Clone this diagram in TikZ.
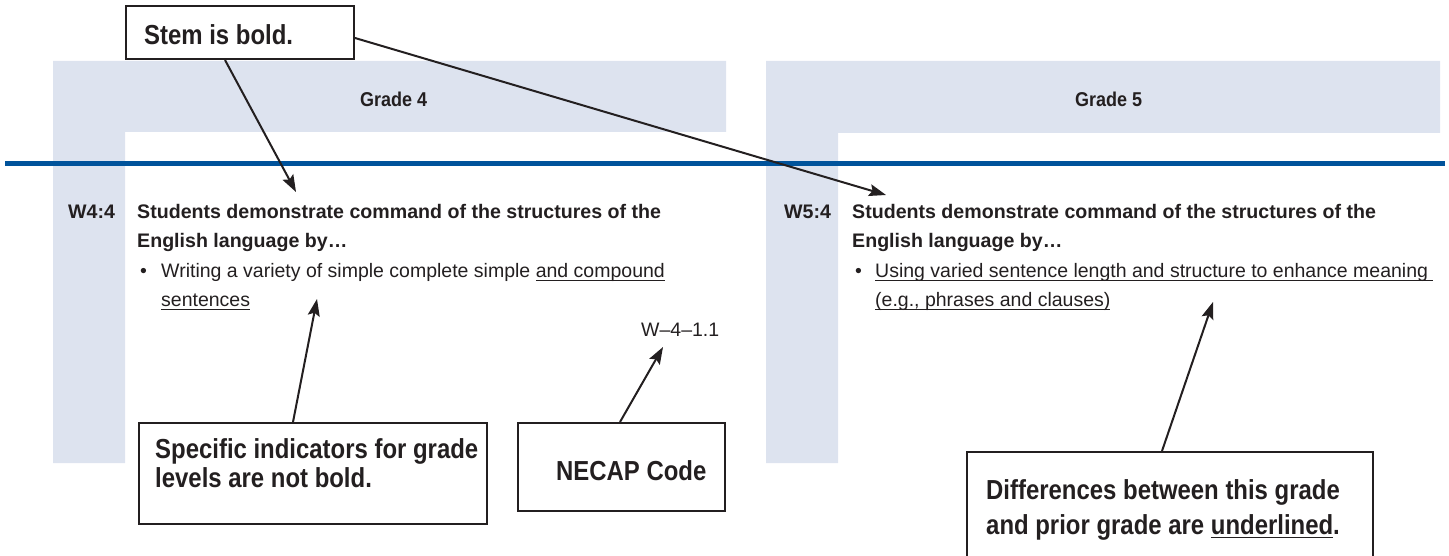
\documentclass[tikz,border=0pt]{standalone}
\usepackage{fontspec}
\setmainfont{Liberation Sans}
\newfontfamily\callf[FakeStretch=0.87]{Liberation Sans}
\newfontfamily\gradef[FakeStretch=0.9]{Liberation Sans}
\newsavebox\myulbox
\newcommand\myul[1]{\sbox\myulbox{#1}\rlap{\rule[-3.5pt]{\wd\myulbox}{1pt}}\usebox\myulbox}
\usetikzlibrary{arrows.meta}
\definecolor{panel}{HTML}{DDE3EF}
\definecolor{rulecol}{HTML}{00539B}
\definecolor{ink}{HTML}{231F20}
\begin{document}
\begin{tikzpicture}[x=1pt,y=-1pt,
  txt/.style={anchor=base west, inner sep=0pt, text=ink, font=\fontsize{19.5}{23}\selectfont},
  stemtxt/.style={anchor=base west, inner sep=0pt, text=ink, font=\bfseries\fontsize{19.6}{23}\selectfont},
  gradetxt/.style={anchor=base west, inner sep=0pt, text=ink, font=\gradef\bfseries\fontsize{20}{24}\selectfont},
  callout/.style={draw=ink, line width=2pt, fill=white, inner sep=0pt, anchor=north west},
  calltxt/.style={anchor=base west, inner sep=0pt, text=ink, font=\callf\bfseries\fontsize{27.5}{30}\selectfont},
  pointer/.style={draw=ink, line width=2pt, -{Stealth[length=17pt,width=12pt,inset=3pt]}},
  panelfill/.style={fill=panel, draw=none}
]
\useasboundingbox (0,0) rectangle (1449,556);
\clip (0,0) rectangle (1449,556);

% grade panels
\path[panelfill] (53,61) -- (726,61) -- (726,132) -- (125,132) -- (125,463) -- (53,463) -- cycle;
\path[panelfill] (766,61) -- (1440,61) -- (1440,133) -- (838,133) -- (838,463) -- (766,463) -- cycle;
\node[gradetxt] (g4) at (360,107) {Grade 4};
\node[gradetxt] (g5) at (1075,107) {Grade 5};

% blue rule
\fill[rulecol] (5,161) rectangle (1445,166);

% grade 4 content
\node[stemtxt] (w4) at (68,219) {W4:4};
\node[stemtxt] (s4a) at (137,219) {Students demonstrate command of the structures of the};
\node[stemtxt] (s4b) at (137,248) {English language by…};
\node[txt] (b4) at (140,277) {•};
\node[txt] (i4a) at (161,277) {Writing a variety of simple complete simple \myul{and compound}};
\node[txt] (i4b) at (161,306) {\myul{sentences}};
\node[txt] (code4) at (641,336) {W–4–1.1};

% grade 5 content
\node[stemtxt] (w5) at (784,219) {W5:4};
\node[stemtxt] (s5a) at (852,219) {Students demonstrate command of the structures of the};
\node[stemtxt] (s5b) at (852,248) {English language by…};
\node[txt] (b5) at (855,277) {•};
\node[txt] (i5a) at (875,277) {\myul{Using varied sentence length and structure to enhance meaning\ }};
\node[txt] (i5b) at (875,306) {\myul{(e.g., phrases and clauses)}};

% arrow targets
\coordinate (t1) at (296,192);
\coordinate (t2) at (886,195);
\coordinate (t3) at (317,299);
\coordinate (t4) at (663,347);
\coordinate (t5) at (1213,302);

% callout boxes
\node[callout, minimum width=228pt, minimum height=53pt] (stem) at (125,5) {};
\node[callout, minimum width=348pt, minimum height=101pt] (spec) at (138,422) {};
\node[callout, minimum width=207pt, minimum height=88pt] (necap) at (517,422) {};
\node[callout, minimum width=406pt, minimum height=130pt] (diff) at (966,451) {};

\node[calltxt] (stemt) at (144,45) {Stem is bold.};
\node[calltxt] (spect1) at (155,458) {Specific indicators for grade};
\node[calltxt] (spect2) at (155,487) {levels are not bold.};
\node[calltxt] (necapt) at (556,480) {NECAP Code};
\node[calltxt] (difft1) at (986,499) {Differences between this grade};
\node[calltxt] (difft2) at (986,534) {and prior grade are \myul{underlined}.};

% pointers
\draw[pointer] ([xshift=100pt]stem.south west) -- (t1);
\draw[pointer] ([yshift=-5.5pt]stem.east) -- (t2);
\draw[pointer] ([xshift=155pt]spec.north west) -- (t3);
\draw[pointer] ([xshift=103pt]necap.north west) -- (t4);
\draw[pointer] ([xshift=196pt]diff.north west) -- (t5);
\end{tikzpicture}
\end{document}
